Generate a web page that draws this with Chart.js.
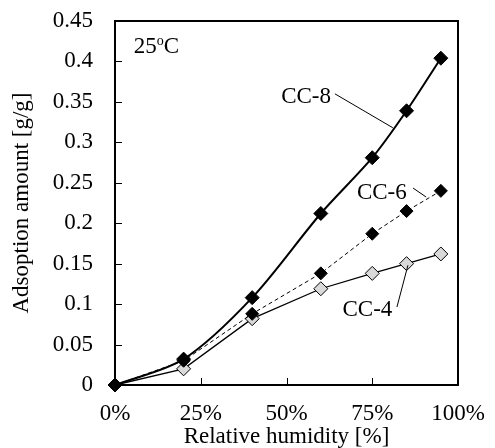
<!DOCTYPE html>
<html>
<head>
<meta charset="utf-8">
<script src="https://cdn.jsdelivr.net/npm/chart.js@4.4.0/dist/chart.umd.min.js"></script>
<style>
  html, body { margin: 0; padding: 0; background: #fff; }
</style>
</head>
<body>
<canvas id="c" width="495" height="448"></canvas>
<script>
// relative humidity [%] and adsorption amount [g/g]
const humidity = [0, 20, 40, 60, 75, 85, 95];
const cc8 = [0, 0.032, 0.108, 0.212, 0.281, 0.339, 0.404];
const cc6 = [0, 0.030, 0.088, 0.138, 0.187, 0.215, 0.240];
const cc4 = [0, 0.020, 0.082, 0.119, 0.138, 0.150, 0.162];
const xTickLabels = ['0%', '25%', '50%', '75%', '100%'];
const yTickLabels = ['0', '0.05', '0.1', '0.15', '0.2', '0.25', '0.3', '0.35', '0.4', '0.45'];

const FONT = 'Liberation Serif';
const SIZE = 23;

const toPoints = (ys) => humidity.map((x, i) => ({ x: x, y: ys[i] }));

// labels with leader lines, given in data units
const notes = [
  { text: 'CC-8', at: [55.7, 0.356], line: [[64.1, 0.360], [81.0, 0.318]] },
  { text: 'CC-6', at: [77.8, 0.237], line: [[86.9, 0.2435], [90.7, 0.2324]] },
  { text: 'CC-4', at: [73.6, 0.0927], line: [[82.2, 0.0964], [85.4, 0.148]] },
];

const frame = {
  id: 'frame',
  afterDraw(chart) {
    const { ctx, chartArea: a, scales: { x, y } } = chart;
    ctx.save();
    ctx.strokeStyle = '#000';
    ctx.lineWidth = 1;
    // inward tick marks
    ctx.beginPath();
    x.ticks.forEach(t => {
      const px = Math.round(x.getPixelForValue(t.value)) + 0.5;
      ctx.moveTo(px, a.bottom);
      ctx.lineTo(px, a.bottom - 7);
    });
    y.ticks.forEach(t => {
      const py = Math.round(y.getPixelForValue(t.value)) + 0.5;
      ctx.moveTo(a.left, py);
      ctx.lineTo(a.left + 7, py);
    });
    ctx.stroke();

    ctx.lineWidth = 2;
    ctx.strokeRect(a.left, a.top, a.right - a.left, a.bottom - a.top);

    // series labels
    ctx.fillStyle = '#000';
    ctx.lineWidth = 1;
    ctx.font = SIZE + 'px ' + FONT;
    ctx.textAlign = 'center';
    ctx.textBaseline = 'middle';
    notes.forEach(n => {
      ctx.fillText(n.text, x.getPixelForValue(n.at[0]), y.getPixelForValue(n.at[1]));
      ctx.beginPath();
      ctx.moveTo(x.getPixelForValue(n.line[0][0]), y.getPixelForValue(n.line[0][1]));
      ctx.lineTo(x.getPixelForValue(n.line[1][0]), y.getPixelForValue(n.line[1][1]));
      ctx.stroke();
    });

    // 25 oC
    let tx = x.getPixelForValue(5.5);
    const ty = y.getPixelForValue(0.418);
    ctx.textAlign = 'left';
    ctx.fillText('25', tx, ty);
    tx += ctx.measureText('25').width;
    ctx.font = '14px ' + FONT;
    ctx.fillText('o', tx, ty - 6);
    tx += ctx.measureText('o').width;
    ctx.font = SIZE + 'px ' + FONT;
    ctx.fillText('C', tx, ty);
    ctx.restore();
  }
};

Chart.defaults.font.family = FONT;
Chart.defaults.font.size = SIZE;
Chart.defaults.color = '#000';

// invisible outer tick marks, used only to push the labels off the axis
const hiddenTicks = (len) => ({
  display: true,
  drawOnChartArea: false,
  drawTicks: true,
  tickLength: len,
  color: 'rgba(0,0,0,0)',
  tickColor: 'rgba(0,0,0,0)',
});

new Chart(document.getElementById('c'), {
  type: 'line',
  data: {
    datasets: [
      {
        label: 'CC-8',
        data: toPoints(cc8),
        borderColor: '#000',
        borderWidth: 2,
        tension: 0.3,
        pointStyle: 'rectRot',
        pointRadius: 7,
        pointBackgroundColor: '#000',
        pointBorderColor: '#000',
        pointBorderWidth: 1,
      },
      {
        label: 'CC-6',
        data: toPoints(cc6),
        borderColor: '#000',
        borderWidth: 1,
        borderDash: [4, 3],
        tension: 0,
        pointStyle: 'rectRot',
        pointRadius: 6.5,
        pointBackgroundColor: '#000',
        pointBorderColor: '#000',
        pointBorderWidth: 1,
      },
      {
        label: 'CC-4',
        data: toPoints(cc4),
        borderColor: '#000',
        borderWidth: 1.3,
        tension: 0,
        pointStyle: 'rectRot',
        pointRadius: 7,
        pointBackgroundColor: '#d9d9d9',
        pointBorderColor: '#000',
        pointBorderWidth: 1,
      },
    ]
  },
  options: {
    responsive: false,
    animation: false,
    clip: false,
    layout: { padding: { top: 21, right: 37, left: 0, bottom: 0 } },
    plugins: {
      legend: { display: false },
      tooltip: { enabled: false },
    },
    scales: {
      x: {
        type: 'linear',
        min: 0,
        max: 100,
        grid: hiddenTicks(15),
        border: { display: false },
        ticks: {
          stepSize: 25,
          padding: 0,
          maxRotation: 0,
          callback: (v, i) => xTickLabels[i],
        },
        title: {
          display: true,
          text: 'Relative humidity [%]',
          font: { size: SIZE, lineHeight: 1 },
          padding: { top: 0, bottom: 0 },
        },
        afterFit(scale) { scale.height = 63; },
      },
      y: {
        min: 0,
        max: 0.45,
        grid: hiddenTicks(22),
        border: { display: false },
        ticks: {
          stepSize: 0.05,
          padding: 0,
          callback: (v, i) => yTickLabels[i],
        },
        title: {
          display: true,
          text: 'Adsoption amount [g/g]',
          font: { size: SIZE, lineHeight: 1.2 },
          padding: { top: 8, bottom: 0 },
        },
        afterFit(scale) { scale.width = 115; },
      },
    },
  },
  plugins: [frame],
});
</script>
</body>
</html>
